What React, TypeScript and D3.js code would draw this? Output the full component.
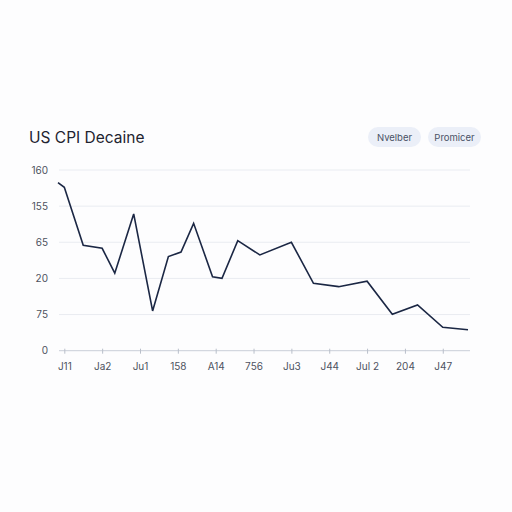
import React, { useEffect, useRef } from 'react';
import * as d3 from 'd3';

// x position in months, y value in chart units
const months = [-2, 0, 6, 12, 16, 22, 28, 33, 37, 41, 47, 50, 55, 62, 72, 79, 87, 96, 104, 112, 120, 128];
const values = [148.8, 144.7, 93.4, 90.7, 68.6, 121.1, 35.2, 83.3, 87.4, 112.8, 65.5, 64.1, 97.4, 84.8, 96.0, 59.7, 56.7, 61.5, 32.2, 40.5, 20.7, 18.6];

const xTicks = [0, 12, 24, 36, 48, 60, 72, 84, 96, 108, 120];
const xTickLabels = ['J11', 'Ja2', 'Ju1', '158', 'A14', '756', 'Ju3', 'J44', 'Jul 2', '204', 'J47'];
const yTicks = [0, 32, 64, 96, 128, 160];
const yTickLabels = ['0', '75', '20', '65', '155', '160'];
const pills = ['Nvelber', 'Promicer'];

export default function App() {
  const svgRef = useRef<SVGSVGElement | null>(null);

  useEffect(() => {
    if (!svgRef.current) return;
    const svg = d3.select(svgRef.current);
    svg.selectAll('*').remove();

    const font = 'Inter, "Noto Sans", sans-serif';
    const x = d3.scaleLinear().domain([-2, 128]).range([58, 468]);
    const y = d3.scaleLinear().domain([0, 160]).range([350.7, 170]);

    svg.append('rect').attr('width', 512).attr('height', 512).attr('fill', '#fdfdfe');

    svg.append('text')
      .attr('x', 29).attr('y', 143)
      .attr('font-family', font).attr('font-size', 15.5)
      .attr('fill', '#1f2430')
      .text('US CPI Decaine');

    // pills top right
    const pillX = [368, 428];
    const pillW = [53, 53];
    pills.forEach((p, i) => {
      svg.append('rect')
        .attr('x', pillX[i]).attr('y', 127)
        .attr('width', pillW[i]).attr('height', 20)
        .attr('rx', 10)
        .attr('fill', '#ebeff8');
      svg.append('text')
        .attr('x', pillX[i] + pillW[i] / 2).attr('y', 141)
        .attr('text-anchor', 'middle')
        .attr('font-family', font).attr('font-size', 9.5)
        .attr('fill', '#4a5266')
        .text(p);
    });

    // gridlines + y labels
    const grid = svg.append('g');
    yTicks.forEach((t, i) => {
      if (t > 0) {
        grid.append('line')
          .attr('x1', 59).attr('x2', 470)
          .attr('y1', y(t)).attr('y2', y(t))
          .attr('stroke', '#e9ecf1').attr('stroke-width', 1);
      }
      grid.append('text')
        .attr('x', 48).attr('y', y(t))
        .attr('dy', '0.35em')
        .attr('text-anchor', 'end')
        .attr('font-family', font).attr('font-size', 10)
        .attr('fill', '#4d5260')
        .text(yTickLabels[i]);
    });

    // x axis
    const xAxis = svg.append('g')
      .attr('transform', `translate(0, ${y(0)})`)
      .call(d3.axisBottom(x).tickValues(xTicks).tickSize(4).tickSizeOuter(0)
        .tickFormat((_, i) => xTickLabels[i]));
    xAxis.select('.domain').attr('stroke', '#c9ced8').attr('d', `M59,0H470`);
    xAxis.selectAll('.tick line').attr('stroke', '#b9bfca').attr('y1', -2).attr('y2', 3);
    xAxis.selectAll('.tick text')
      .attr('y', 12)
      .attr('font-family', font).attr('font-size', 10)
      .attr('fill', '#4d5260');

    const line = d3.line<number>()
      .x((_, i) => x(months[i]))
      .y((d) => y(d));

    svg.append('path')
      .datum(values)
      .attr('d', line)
      .attr('fill', 'none')
      .attr('stroke', '#1b2744')
      .attr('stroke-width', 1.6)
      .attr('stroke-linejoin', 'miter');
  }, []);

  return (
    <svg ref={svgRef} width={512} height={512}
      style={{ position: 'absolute', left: 0, top: 0, display: 'block' }} />
  );
}
